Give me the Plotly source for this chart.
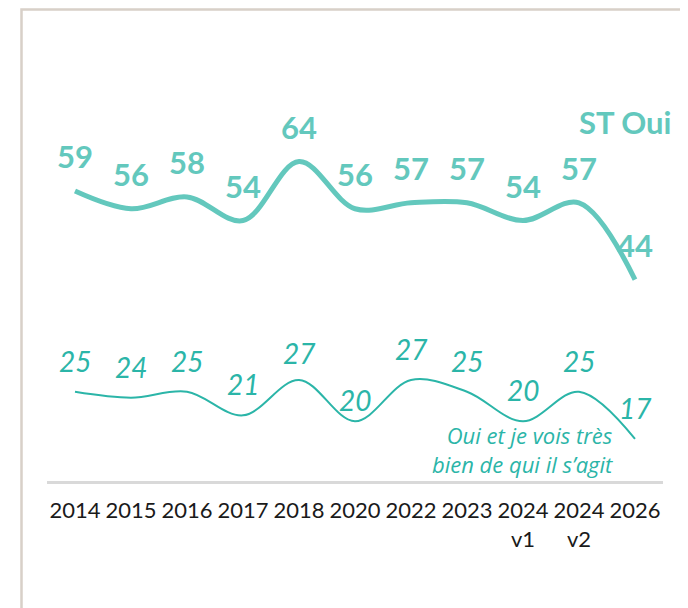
import plotly.graph_objects as go

categories = ["2014", "2015", "2016", "2017", "2018", "2020", "2022", "2023", "2024<br>v1", "2024<br>v2", "2026"]
st_oui = [59, 56, 58, 54, 64, 56, 57, 57, 54, 57, 44]
oui_tres = [25, 24, 25, 21, 27, 20, 27, 25, 20, 25, 17]

series_name_main = "ST Oui"
series_name_sub = "Oui et je vois très<br>bien de qui il s’agit"

C_MAIN = "#63C8BD"
C_SUB = "#2BB5A8"

OFF = 8  # page body margin
W, H = 688 - OFF, 608 - OFF
ML, MT = 47 - OFF, 30 - OFF
MR = W - (663 - OFF)
MB = H - (481 - OFF)
PW = W - ML - MR
PH = H - MT - MB

fig = go.Figure()
fig.add_trace(go.Scatter(x=categories, y=st_oui, mode="lines",
                         line=dict(color=C_MAIN, width=5, shape="spline", smoothing=1.0),
                         hoverinfo="skip", showlegend=False))
fig.add_trace(go.Scatter(x=categories, y=oui_tres, mode="lines",
                         line=dict(color=C_SUB, width=2, shape="spline", smoothing=1.0),
                         hoverinfo="skip", showlegend=False))

annotations = []
for i, v in enumerate(st_oui):
    annotations.append(dict(x=i, y=v, xref="x", yref="y", text=str(v), showarrow=False,
                            yshift=35, yanchor="middle",
                            font=dict(family="Lato", size=31, color=C_MAIN, weight="bold")))
sub_shift = {4: 27, 5: 21}
for i, v in enumerate(oui_tres):
    annotations.append(dict(x=i, y=v, xref="x", yref="y", text=f"<i>{v}</i>", showarrow=False,
                            yshift=sub_shift.get(i, 31), yanchor="middle",
                            font=dict(family="Lato", size=28, color=C_SUB)))

def px_x(p):
    return (p - OFF - ML) / PW

def px_y(p):
    return (H - MB - (p - OFF)) / PH

annotations.append(dict(x=px_x(673), y=px_y(122), xref="paper", yref="paper",
                        text=f"<b>{series_name_main}</b>",
                        showarrow=False, xanchor="right", yanchor="middle",
                        font=dict(family="Lato", size=31, color=C_MAIN)))
annotations.append(dict(x=px_x(615), y=px_y(449), xref="paper", yref="paper",
                        text=f"<i>{series_name_sub}</i>", showarrow=False,
                        xanchor="right", yanchor="middle", align="right",
                        font=dict(family="Open Sans", size=22, color=C_SUB)))

# frame (top and left border)
xl, xr = px_x(21.5), px_x(700)
yt, yb = px_y(9.5), px_y(620)
shapes = [dict(type="path", xref="paper", yref="paper",
               path=f"M {xl},{yb} L {xl},{yt} L {xr},{yt}",
               line=dict(color="#D8D0C8", width=2.5))]

fig.update_layout(
    width=W, height=H,
    margin=dict(l=ML, r=MR, t=MT, b=MB),
    paper_bgcolor="white", plot_bgcolor="white",
    annotations=annotations, shapes=shapes,
    xaxis=dict(type="category", showgrid=False, zeroline=False,
               showline=True, linecolor="#D9D9D9", linewidth=3,
               ticks="", ticklabelstandoff=8,
               tickfont=dict(family="Lato", size=22, color="#1A1A1A"),
               range=[-0.5, len(categories) - 0.5]),
    yaxis=dict(range=[9.88, 86.28], visible=False, showgrid=False, zeroline=False),
)

fig.write_html("out.html")
